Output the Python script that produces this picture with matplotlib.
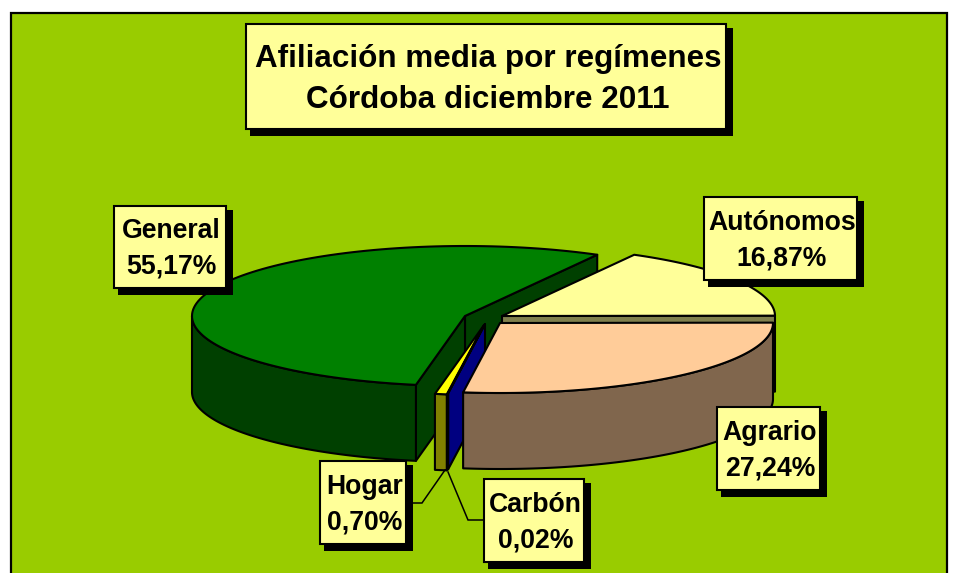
import numpy as np
import matplotlib
matplotlib.use("Agg")
import matplotlib.pyplot as plt
from matplotlib.patches import Polygon, Rectangle

plt.rcParams['font.family'] = ['Liberation Sans', 'DejaVu Sans']

# Data (counter-clockwise from the 3 o'clock position)
categories = ["Autónomos", "General", "Hogar", "Carbón", "Agrario"]
shares = [16.87, 55.17, 0.70, 0.02, 27.24]
title_lines = ["Afiliación media por regímenes", "Córdoba diciembre 2011"]

# Styles and layout (pixel coordinates of the canvas)
W, H = 954, 573
BG = "#99CC00"
BOX = "#FFFF99"
top_col = {"Autónomos": "#FFFF99", "General": "#008000", "Hogar": "#FFFF00", "Carbón": "#000080", "Agrario": "#FFCC99"}
side_col = {"Autónomos": "#80804D", "General": "#004000", "Hogar": "#808000", "Carbón": "#000080", "Agrario": "#80664D"}
apex = {"Autónomos": (502, 316), "General": (465, 316), "Hogar": (484, 325), "Carbón": (485, 324), "Agrario": (500, 323)}
draw_order = ["General", "Autónomos", "Hogar", "Carbón", "Agrario"]
RX, RY, DEPTH = 273, 70, 76
START = 0.3
LW = 1.5

label_boxes = {
    "General": (114, 206, 226, 288),
    "Autónomos": (704, 197, 857, 280),
    "Agrario": (717, 407, 820, 490),
    "Hogar": (320, 461, 406, 544),
    "Carbón": (484, 479, 584, 562),
}
leaders = {
    "Hogar": ([406, 422, 445], [503, 503, 470]),
    "Carbón": ([484, 468, 448], [520, 520, 472]),
}

fig = plt.figure(figsize=(W / 100, H / 100), dpi=100, facecolor="white")
ax = fig.add_axes([0, 0, 1, 1])
ax.set_xlim(0, W)
ax.set_ylim(H, 0)
ax.axis("off")

ax.add_patch(Rectangle((11, 13), 936, 570, facecolor=BG, edgecolor="black", lw=1.6, zorder=0))


def arc(cx, cy, t0, t1, n=120):
    t = np.radians(np.linspace(t0, t1, n))
    return np.column_stack([cx + RX * np.cos(t), cy - RY * np.sin(t)])


def poly(pts, color, z):
    ax.add_patch(Polygon(pts, closed=True, facecolor=color, edgecolor="black",
                         lw=LW, joinstyle="round", zorder=z))


angles = np.concatenate([[0], np.cumsum(shares)]) * 3.6 + START
span = {c: (angles[i], angles[i + 1]) for i, c in enumerate(categories)}

for k, name in enumerate(draw_order):
    t0, t1 = span[name]
    cx, cy = apex[name]
    z = 2 + k
    down = np.array([0, DEPTH])
    c = np.array([cx, cy], float)
    # flat cut faces, only where they look towards the viewer
    for t, normal in ((t0, t0 - 90), (t1, t1 + 90)):
        if np.sin(np.radians(normal)) < 0:
            end = arc(cx, cy, t, t, 1)[0]
            poly([c, end, end + down, c + down], side_col[name], z)
    # outer wall (front half only)
    lo, hi = max(t0, 180), min(t1, 360)
    if lo < hi:
        a = arc(cx, cy, lo, hi)
        poly(np.vstack([a, (a + down)[::-1]]), side_col[name], z)
    # top face
    poly(np.vstack([c, arc(cx, cy, t0, t1), c]), top_col[name], z)

# leader lines
for name, (xs, ys) in leaders.items():
    ax.plot(xs, ys, color="black", lw=1.1, zorder=10, solid_joinstyle="miter")


def boxed(x0, y0, x1, y1, lines, size, step, dx, dy):
    s = 7
    ax.add_patch(Rectangle((x0 + 4, y0 + 4), x1 - x0 + s - 4, y1 - y0 + s - 4,
                           facecolor="black", edgecolor="none", zorder=11))
    ax.add_patch(Rectangle((x0, y0), x1 - x0, y1 - y0, facecolor=BOX,
                           edgecolor="black", lw=LW, zorder=12))
    xc = (x0 + x1) / 2 + dx
    yc = (y0 + y1) / 2 + dy
    for i, line in enumerate(lines):
        ax.text(xc, yc + (i - (len(lines) - 1) / 2) * step, line, ha="center", va="center",
                fontsize=size, fontweight="bold", color="black", zorder=13)


boxed(246, 24, 726, 129, title_lines, 22.6, 41, 2, 3)
for name, value in zip(categories, shares):
    x0, y0, x1, y1 = label_boxes[name]
    boxed(x0, y0, x1, y1, [name, f"{value:.2f}%".replace(".", ",")], 19.2, 35.5, 1.5, 2)

fig.savefig("out.png", dpi=100, facecolor="white")
